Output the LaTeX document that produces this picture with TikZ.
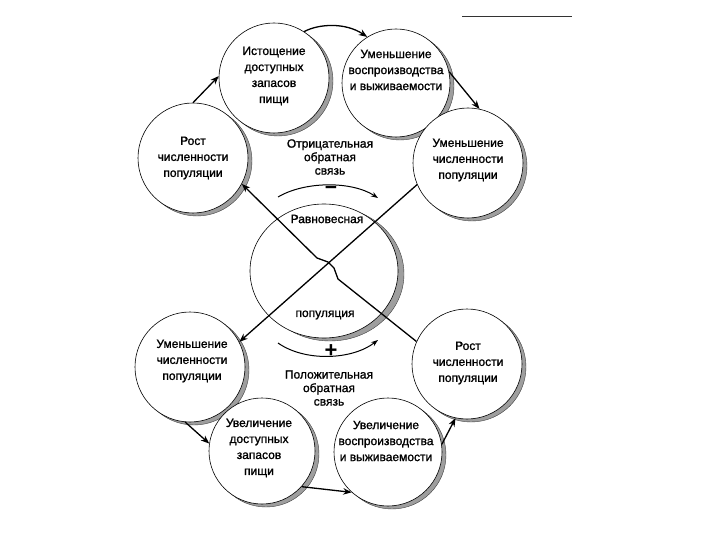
\documentclass[tikz,border=0pt]{standalone}
\usepackage{fontspec}
\setmainfont{Liberation Sans}
\usetikzlibrary{arrows.meta,shapes.geometric}
\begin{document}
\begin{tikzpicture}[x=1pt,y=-1pt,
  bubble/.style={circle, draw=black, line width=0.6pt, fill=white, minimum size=#1, inner sep=0pt},
  shadowblob/.style={circle, draw=black!75, line width=0.4pt, fill=black!38, minimum size=#1, inner sep=0pt, xshift=4pt, yshift=-3pt},
  lbl/.style={align=center, font=\fontsize{12}{16}\selectfont\addfontfeature{FakeBold=1.2}},
  fb/.style={align=center, font=\fontsize{12}{13.5}\selectfont\addfontfeature{FakeBold=1.2}, inner sep=1pt},
  arr/.style={line width=1.3pt, -{Stealth[length=8.5pt,width=6.5pt]}},
  curv/.style={line width=1pt, -{Stealth[length=7pt,width=5pt]}},
  sign/.style={inner sep=0pt, font=\fontsize{#1}{#1}\bfseries\selectfont},
]
\useasboundingbox (0,0) rectangle (720,540);
\fill[white] (0,0) rectangle (720,540);

% scanner line at top right
\draw[line width=0.6pt, black!80] (462,16) coordinate (sl1) -- (572,16) coordinate (sl2);

% shadows
\node[shadowblob=110] (As) at (193,158) {};
\node[shadowblob=110] (Bs) at (274,78) {};
\node[shadowblob=108] (Cs) at (396,83) {};
\node[shadowblob=110] (Ds) at (468,163) {};
\node[ellipse, draw=black!75, line width=0.4pt, fill=black!38, minimum width=148pt, minimum height=134pt, inner sep=0pt, xshift=6pt, yshift=-3pt] (Es) at (324,271) {};
\node[shadowblob=110] (Fs) at (190,367) {};
\node[shadowblob=110] (Gs) at (467,364) {};
\node[shadowblob=106] (Hs) at (262,451) {};
\node[shadowblob=108] (Is) at (388,452) {};

% circles
\node[bubble=110] (A) at (193,158) {};
\node[bubble=110] (B) at (274,78) {};
\node[bubble=108] (C) at (396,83) {};
\node[bubble=110] (D) at (468,163) {};
\node[ellipse, draw=black, line width=0.6pt, fill=white, minimum width=148pt, minimum height=134pt, inner sep=0pt] (E) at (324,271) {};
\node[bubble=110] (F) at (190,367) {};
\node[bubble=110] (G) at (467,364) {};
\node[bubble=106] (H) at (262,451) {};
\node[bubble=108] (I) at (388,452) {};

% texts
\node[lbl] (At) at (193,158) {Рост\\численности\\популяции};
\node[lbl] (Bt) at (274,76) {Истощение\\доступных\\запасов\\пищи};
\node[lbl] (Ct) at (396,70) {Уменьшение\\воспроизводства\\и выживаемости};
\node[lbl] (Dt) at (468,160) {Уменьшение\\численности\\популяции};
\node[lbl] (Et1) at (327,219) {Равновесная};
\node[lbl] (Et2) at (325,315) {популяция};
\node[lbl] (Ft) at (192,361) {Уменьшение\\численности\\популяции};
\node[lbl] (Gt) at (468,363) {Рост\\численности\\популяции};
\node[lbl] (Ht) at (259,448) {Увеличение\\доступных\\запасов\\пищи};
\node[lbl] (It) at (386,441) {Увеличение\\воспроизводства\\и выживаемости};

\node[fb] (neg) at (330,157) {Отрицательная\\обратная\\связь};
\node[fb] (pos) at (329,388) {Положительная\\обратная\\связь};
\node[sign=21] (minus) at (331,190) {−};
\node[sign=22] (plus) at (331,351) {+};

% cycle arrows
\draw[arr] (A.90) -- (B.178);
\draw[arr] (B.57) .. controls (318,24) and (345,22) .. (C.122);
\draw[arr] (C.12) -- (D.78);
\draw[arr] (F.265) -- (H.172);
\draw[arr] (H.-42) -- (I.228);
\draw[arr] (I.8) -- (G.258);

% feedback arcs
\coordinate (n1) at (278,197);
\coordinate (n2) at (378,198);
\draw[curv] (n1) .. controls (305,181) and (352,181) .. (n2);
\coordinate (p1) at (278,343);
\coordinate (p2) at (378,340);
\draw[curv] (p1) .. controls (305,362) and (352,360) .. (p2);

% crossing lines
\draw[arr] (G.156) -- (338,279) -- (334,268) -- (328,262) -- (317,258) -- (A.-28);
\draw[arr] (D.203) -- (F.27);
\end{tikzpicture}
\end{document}
